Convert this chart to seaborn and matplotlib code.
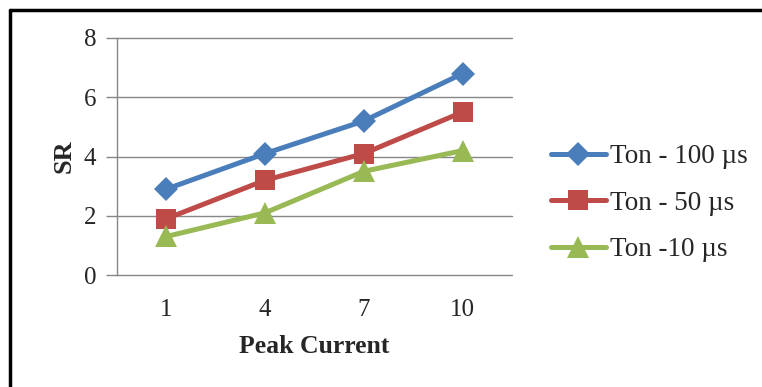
import matplotlib
matplotlib.use("Agg")
import matplotlib.pyplot as plt
import seaborn as sns
import pandas as pd
from matplotlib.lines import Line2D

sns.set_style("white")
plt.rcParams['font.family'] = ['Liberation Serif', 'DejaVu Serif']

peak_current = ["1", "4", "7", "10"]
ton_100 = [2.9, 4.1, 5.2, 6.8]
ton_50 = [1.9, 3.2, 4.1, 5.5]
ton_10 = [1.3, 2.1, 3.5, 4.2]
series_names = ["Ton - 100 µs", "Ton - 50 µs", "Ton -10 µs"]
colors = ["#4A7EBB", "#BE4B48", "#98B954"]
markers = ["D", "s", "^"]
msizes = [12, 14, 16]
lw = 3.6

rows = []
for name, vals in zip(series_names, [ton_100, ton_50, ton_10]):
    for x, v in zip(peak_current, vals):
        rows.append({"Peak Current": x, "SR": v, "series": name})
df = pd.DataFrame(rows)

fig = plt.figure(figsize=(7.62, 3.87), dpi=100)
ax = fig.add_axes([117/762, 1-275/387, (512-117)/762, (275-38)/387])

for name, c, m, ms in zip(series_names, colors, markers, msizes):
    sub = df[df["series"] == name]
    sns.lineplot(data=sub, x="Peak Current", y="SR", ax=ax, color=c, marker=m,
                 markersize=ms, markeredgewidth=0, linewidth=lw, sort=False,
                 legend=False, zorder=3)

ax.set_xlim(-0.5, 3.5)
ax.set_ylim(0, 8)
ax.set_yticks([0, 2, 4, 6, 8])
ax.yaxis.grid(True, color="#868686", linewidth=1.0)
for gl in ax.yaxis.get_gridlines():
    gl.set_clip_on(False)
ax.set_axisbelow(True)
for s in ["top", "right", "bottom"]:
    ax.spines[s].set_visible(False)
ax.spines["left"].set_color("#868686")
ax.spines["left"].set_linewidth(1.0)
ax.tick_params(axis="y", which="both", left=True, length=8, width=1.0,
               color="#868686", labelsize=18, pad=7)
ax.tick_params(axis="x", bottom=False, labelsize=18, pad=14)
ax.set_xlabel("Peak Current", fontsize=18.5, fontweight="bold", labelpad=10)
ax.set_ylabel("SR", fontsize=19, fontweight="bold", labelpad=6)

handles = [Line2D([0], [0], color=c, marker=m, markersize=ms, markeredgewidth=0,
                  linewidth=lw) for c, m, ms in zip(colors, markers, msizes)]
fig.legend(handles, series_names, loc="upper left",
           bbox_to_anchor=(551/762, 1-144/387), frameon=False, fontsize=19.5,
           handlelength=2.03, handletextpad=0.15, labelspacing=0.8,
           borderpad=0, borderaxespad=0)

fig.add_artist(Line2D([9.5/762, 9.5/762], [0, 1-9.5/387], transform=fig.transFigure,
                      color="black", linewidth=2.5))
fig.add_artist(Line2D([9.5/762, 1], [1-9.5/387, 1-9.5/387], transform=fig.transFigure,
                      color="black", linewidth=2.5))

fig.savefig("out.png", dpi=100)
